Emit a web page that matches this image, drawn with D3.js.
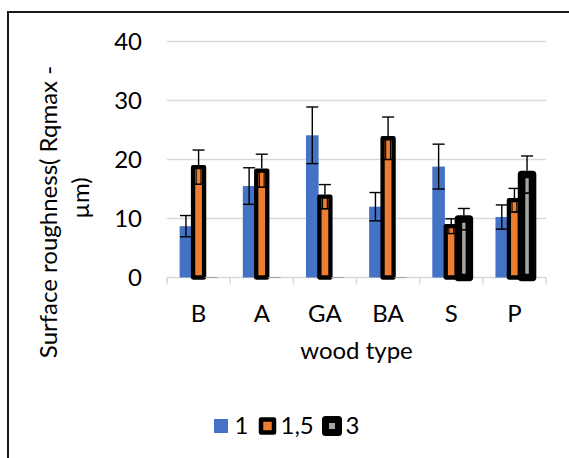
<!DOCTYPE html>
<html>
<head>
<meta charset="utf-8">
<script src="https://cdn.jsdelivr.net/npm/d3@7"></script>
<style>
  html, body { margin: 0; padding: 0; background: #fff; }
  svg text { font-family: Lato, "Liberation Sans", sans-serif; fill: #000; }
</style>
</head>
<body>
<svg id="chart" width="569" height="458"></svg>
<script>
// Wood types on the x axis
const categories = ["B", "A", "GA", "BA", "S", "P"];
// Series names (legend)
const seriesNames = ["1", "1,5", "3"];
// Mean surface roughness per series
const values1 = [8.7, 15.5, 24.1, 12.0, 18.8, 10.25];
const values15 = [18.7, 18.1, 13.7, 23.6, 8.7, 13.1];
const values3 = [0, 0, 0, 0, 9.9, 17.45];
// Error bar half-widths per series
const errors1 = [1.8, 3.1, 4.8, 2.4, 3.8, 2.05];
const errors15 = [2.9, 2.8, 2.05, 3.6, 1.25, 2.0];
const errors3 = [0, 0, 0, 0, 1.8, 3.15];
// Y axis ticks
const yTicks = [0, 10, 20, 30, 40];

const colors = ["#4472C4", "#ED7D31", "#A5A5A5"];
const borderWidths = [0, 4.3, 7.5];
const valueSets = [values1, values15, values3];
const errorSets = [errors1, errors15, errors3];

const svg = d3.select("#chart");
const plot = { left: 167, right: 546, top: 41.5, bottom: 277.5 };

// chart area frame
svg.append("rect")
  .attr("x", 8).attr("y", 12)
  .attr("width", 600).attr("height", 500)
  .attr("fill", "none").attr("stroke", "#1a1a1a").attr("stroke-width", 2);

const y = d3.scaleLinear().domain([0, 40]).range([plot.bottom, plot.top]);
const x0 = d3.scaleBand().domain(categories).range([plot.left, plot.right]).padding(0);
const x1 = d3.scaleBand().domain(d3.range(3)).range([0, x0.bandwidth()])
  .paddingInner(0).paddingOuter(1.0);

// gridlines
svg.append("g").selectAll("line").data(yTicks.filter(t => t > 0)).join("line")
  .attr("x1", plot.left).attr("x2", plot.right)
  .attr("y1", d => y(d)).attr("y2", d => y(d))
  .attr("stroke", "#d9d9d9").attr("stroke-width", 1.5);

// y tick labels
svg.append("g").selectAll("text").data(yTicks).join("text")
  .attr("x", 142).attr("y", d => y(d))
  .attr("dy", "0.35em")
  .attr("text-anchor", "end")
  .attr("font-size", 24)
  .text(d => d);

// category axis line and ticks
const xAxisG = svg.append("g");
xAxisG.append("line")
  .attr("x1", plot.left).attr("x2", plot.right)
  .attr("y1", y(0)).attr("y2", y(0))
  .attr("stroke", "#d9d9d9").attr("stroke-width", 1.5);
const boundaries = categories.map(c => x0(c)).concat([plot.right]);
xAxisG.selectAll("line.tick").data(boundaries).join("line")
  .attr("class", "tick")
  .attr("x1", d => d).attr("x2", d => d)
  .attr("y1", y(0)).attr("y2", y(0) + 7)
  .attr("stroke", "#d9d9d9").attr("stroke-width", 1.5);

// category labels
svg.append("g").selectAll("text").data(categories).join("text")
  .attr("x", d => x0(d) + x0.bandwidth() / 2)
  .attr("y", 321.5)
  .attr("text-anchor", "middle")
  .attr("font-size", 24)
  .text(d => d);

// axis titles
svg.append("text")
  .attr("x", (plot.left + plot.right) / 2).attr("y", 359)
  .attr("text-anchor", "middle").attr("font-size", 24)
  .text("wood type");

svg.append("text")
  .attr("transform", "translate(57,212) rotate(-90)")
  .attr("text-anchor", "middle").attr("font-size", 24)
  .text("Surface roughness( Rqmax -");
svg.append("text")
  .attr("transform", "translate(89,198) rotate(-90)")
  .attr("text-anchor", "middle").attr("font-size", 24)
  .text("µm)");

// bars and error bars
const capW = 12;
const barsG = svg.append("g");
valueSets.forEach((vals, s) => {
  const errs = errorSets[s];
  const g = barsG.append("g");
  categories.forEach((c, i) => {
    const v = vals[i], e = errs[i];
    const slotX = x0(c) + x1(s);
    const bw = x1.bandwidth();
    const cx = slotX + bw / 2;
    if (v === 0) {
      g.append("line")
        .attr("x1", slotX).attr("x2", slotX + bw)
        .attr("y1", y(0)).attr("y2", y(0))
        .attr("stroke", "#a6a6a6").attr("stroke-width", 1);
      return;
    }
    if (s === 0) {
      g.append("rect")
        .attr("x", slotX).attr("width", bw)
        .attr("y", y(v)).attr("height", y(0) - y(v))
        .attr("fill", colors[s]);
      // error bar
      g.append("line").attr("x1", cx).attr("x2", cx)
        .attr("y1", y(v + e)).attr("y2", y(v - e))
        .attr("stroke", "#000").attr("stroke-width", 1.4);
      [v + e, v - e].forEach(t => g.append("line")
        .attr("x1", cx - capW / 2).attr("x2", cx + capW / 2)
        .attr("y1", y(t)).attr("y2", y(t))
        .attr("stroke", "#000").attr("stroke-width", 1.4));
    } else {
      const w = bw - 1.6;
      const bx = cx - w / 2;
      g.append("rect")
        .attr("x", bx).attr("width", w)
        .attr("y", y(v)).attr("height", y(0) - y(v))
        .attr("fill", colors[s]);
      // lower whisker inside the bar
      g.append("rect")
        .attr("x", cx - 2.4).attr("width", 4.8)
        .attr("y", y(v)).attr("height", y(v - e) - y(v))
        .attr("fill", colors[s]).attr("stroke", "#000").attr("stroke-width", 1.1);
      g.append("line")
        .attr("x1", cx - capW / 2).attr("x2", cx + capW / 2)
        .attr("y1", y(v - e)).attr("y2", y(v - e))
        .attr("stroke", "#000").attr("stroke-width", 1.4);
      // bar outline
      g.append("rect")
        .attr("x", bx).attr("width", w)
        .attr("y", y(v)).attr("height", y(0) - y(v))
        .attr("fill", "none").attr("stroke", "#000")
        .attr("stroke-width", borderWidths[s])
        .attr("stroke-linejoin", "round");
      // upper whisker
      g.append("line").attr("x1", cx).attr("x2", cx)
        .attr("y1", y(v + e)).attr("y2", y(v) - borderWidths[s] / 2)
        .attr("stroke", "#000").attr("stroke-width", 1.4);
      g.append("line")
        .attr("x1", cx - capW / 2).attr("x2", cx + capW / 2)
        .attr("y1", y(v + e)).attr("y2", y(v + e))
        .attr("stroke", "#000").attr("stroke-width", 1.4);
    }
  });
});

// legend
const legendItems = [
  { name: seriesNames[0], cx: 221, text: 234.5 },
  { name: seriesNames[1], cx: 267.5, text: 280.5 },
  { name: seriesNames[2], cx: 332, text: 345.5 }
];
const legendBox = [14, 13, 13];
const legendStroke = [0, 4.5, 7];
const lg = svg.append("g");
legendItems.forEach((it, s) => {
  const sz = legendBox[s];
  const r = lg.append("rect")
    .attr("x", it.cx - sz / 2).attr("y", 426 - sz / 2)
    .attr("width", sz).attr("height", sz)
    .attr("fill", colors[s]);
  if (s > 0) {
    r.attr("stroke", "#000").attr("stroke-width", legendStroke[s])
      .attr("stroke-linejoin", "round");
  }
  lg.append("text").attr("x", it.text).attr("y", 434)
    .attr("font-size", 24).text(it.name);
});
</script>
</body>
</html>
